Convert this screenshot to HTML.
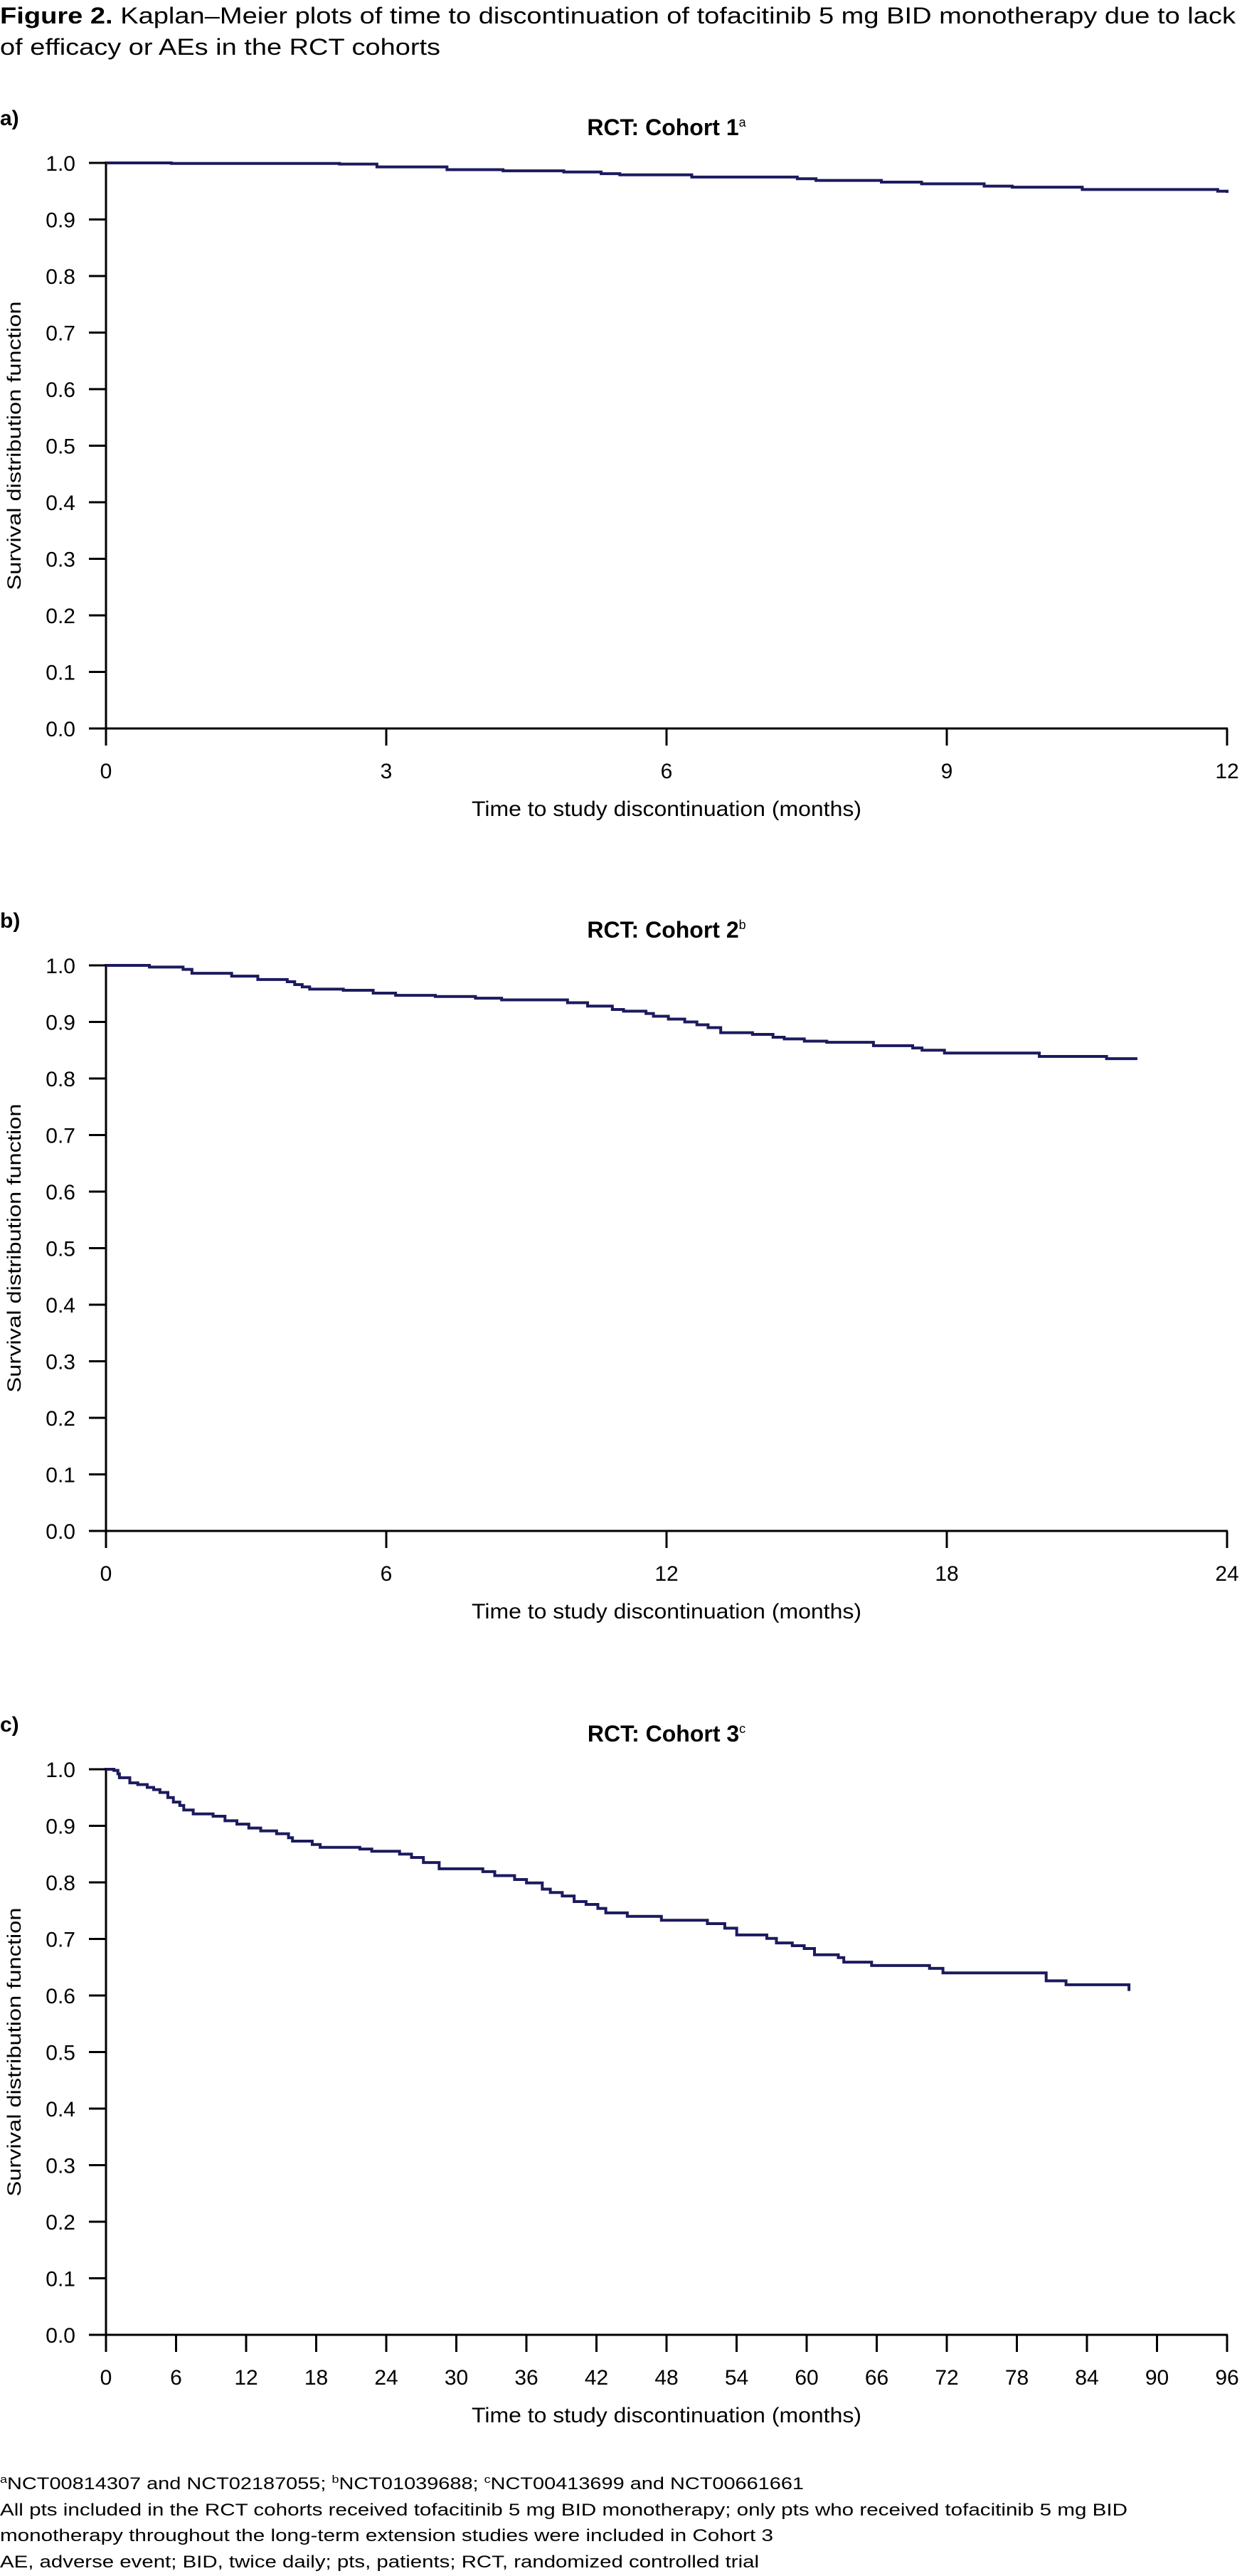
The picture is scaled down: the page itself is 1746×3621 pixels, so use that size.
<!DOCTYPE html>
<html><head><meta charset="utf-8"><style>
html,body{margin:0;padding:0;background:#fff}
svg{display:block;font-family:"Liberation Sans",Arial,sans-serif}
</style></head><body>
<svg id="fig" width="1746" height="3621" viewBox="0 0 1746 3621" xmlns="http://www.w3.org/2000/svg">
<text x="0" y="33" font-size="32" textLength="1737" lengthAdjust="spacingAndGlyphs"><tspan font-weight="bold">Figure 2.</tspan> Kaplan–Meier plots of time to discontinuation of tofacitinib 5 mg BID monotherapy due to lack</text>
<text x="0" y="77" font-size="32" textLength="619" lengthAdjust="spacingAndGlyphs">of efficacy or AEs in the RCT cohorts</text>
<g id="charts"></g>
<g font-size="24">
<text x="0" y="3499" textLength="1130" lengthAdjust="spacingAndGlyphs"><tspan font-size="15" dy="-9">a</tspan><tspan dy="9">NCT00814307 and NCT02187055; </tspan><tspan font-size="15" dy="-9">b</tspan><tspan dy="9">NCT01039688; </tspan><tspan font-size="15" dy="-9">c</tspan><tspan dy="9">NCT00413699 and NCT00661661</tspan></text>
<text x="0" y="3536" textLength="1585" lengthAdjust="spacingAndGlyphs">All pts included in the RCT cohorts received tofacitinib 5 mg BID monotherapy; only pts who received tofacitinib 5 mg BID</text>
<text x="0" y="3572" textLength="1087" lengthAdjust="spacingAndGlyphs">monotherapy throughout the long-term extension studies were included in Cohort 3</text>
<text x="0" y="3609" textLength="1067" lengthAdjust="spacingAndGlyphs">AE, adverse event; BID, twice daily; pts, patients; RCT, randomized controlled trial</text>
</g>
</svg>
<script>
// Cohort 1 (months, survival)
const c1Times = [0, 0.7, 2.5, 2.9, 3.65, 4.25, 4.9, 5.3, 5.5, 6.27, 7.4, 7.6, 8.3, 8.73, 9.4, 9.7, 10.45, 11.9, 12];
const c1Surv  = [1.0, 0.999, 0.998, 0.993, 0.988, 0.986, 0.984, 0.981, 0.979, 0.975, 0.972, 0.969, 0.966, 0.963, 0.959, 0.957, 0.953, 0.95, 0.947];
const c1Ticks = [0, 3, 6, 9, 12];
// Cohort 2
const c2Times = [0, 0.93, 1.65, 1.84, 2.69, 3.25, 3.88, 4.04, 4.2, 4.36, 5.08, 5.72, 6.2, 7.05, 7.91, 8.47, 9.88, 10.31, 10.84, 11.08, 11.56, 11.72, 12.04, 12.39, 12.65, 12.89, 13.16, 13.84, 14.28, 14.52, 14.95, 15.43, 16.43, 17.27, 17.47, 17.95, 19.98, 21.42, 22.08];
const c2Surv  = [1.0, 0.997, 0.993, 0.986, 0.981, 0.975, 0.971, 0.966, 0.962, 0.958, 0.956, 0.951, 0.947, 0.945, 0.942, 0.939, 0.934, 0.928, 0.922, 0.919, 0.915, 0.91, 0.905, 0.9, 0.895, 0.89, 0.881, 0.878, 0.873, 0.87, 0.866, 0.864, 0.858, 0.854, 0.85, 0.845, 0.839, 0.835, 0.835];
const c2Ticks = [0, 6, 12, 18, 24];
// Cohort 3
const c3Times = [0, 0.68, 1.02, 1.15, 2.04, 2.72, 3.53, 4.08, 4.62, 5.3, 5.77, 6.32, 6.66, 7.47, 9.17, 10.19, 11.21, 12.23, 13.25, 14.61, 15.63, 15.97, 17.66, 18.34, 21.74, 22.76, 25.14, 26.16, 27.18, 28.53, 32.27, 33.29, 34.99, 36.01, 37.36, 38.05, 39.07, 40.09, 41.11, 42.12, 42.8, 44.64, 47.56, 51.5, 52.99, 54.01, 56.59, 57.41, 58.77, 59.79, 60.67, 62.71, 63.18, 65.56, 70.52, 71.67, 80.51, 82.21, 87.5, 87.6];
const c3Surv  = [1.0, 0.998, 0.992, 0.985, 0.976, 0.973, 0.968, 0.964, 0.959, 0.95, 0.942, 0.936, 0.928, 0.921, 0.917, 0.909, 0.903, 0.896, 0.891, 0.886, 0.879, 0.873, 0.867, 0.862, 0.859, 0.855, 0.85, 0.844, 0.835, 0.824, 0.819, 0.812, 0.805, 0.799, 0.788, 0.782, 0.776, 0.766, 0.761, 0.754, 0.746, 0.74, 0.733, 0.727, 0.719, 0.707, 0.701, 0.693, 0.688, 0.683, 0.672, 0.667, 0.659, 0.653, 0.648, 0.64, 0.626, 0.619, 0.619, 0.608];
const c3Ticks = [0, 6, 12, 18, 24, 30, 36, 42, 48, 54, 60, 66, 72, 78, 84, 90, 96];
const yTicks = [0.0, 0.1, 0.2, 0.3, 0.4, 0.5, 0.6, 0.7, 0.8, 0.9, 1.0];

const NS = 'http://www.w3.org/2000/svg';
const root = document.getElementById('charts');
function mk(tag, attrs, parent) {
  const e = document.createElementNS(NS, tag);
  for (const k in attrs) e.setAttribute(k, attrs[k]);
  parent.appendChild(e);
  return e;
}
const X0 = 149, X1 = 1725;
function drawChart(opts) {
  const { top, letter, sup, title, times, surv, ticks, xmax, key } = opts;
  const bottom = top + 795;
  const xs = v => X0 + (v / xmax) * (X1 - X0);
  const ys = v => bottom - v * 795;
  const g = mk('g', {}, root);
  
  

  const lab = mk('text', { x: 0, y: top - 53, 'font-size': 30, 'font-weight': 'bold' }, g);
  lab.textContent = letter;
  
  

  const t = mk('text', { x: 937, y: top - 39, 'font-size': 32, 'font-weight': 'bold', 'text-anchor': 'middle' }, g);
  
  
  const ts = mk('tspan', {}, t); ts.textContent = title;
  const tsup = mk('tspan', { 'font-size': 18, dy: -12, 'font-weight': 'normal' }, t); tsup.textContent = sup;

  // y ticks
  yTicks.forEach(v => {
    const tk = mk('line', { x1: 125, x2: X0, y1: ys(v), y2: ys(v), stroke: '#000', 'stroke-width': 3 }, g);
    
    
    const tl = mk('text', { x: 106, y: ys(v) + 11, 'font-size': 30, 'text-anchor': 'end' }, g);
    tl.textContent = v.toFixed(1);
    
    
  });
  // x ticks
  ticks.forEach(v => {
    const tk = mk('line', { x1: xs(v), x2: xs(v), y1: bottom, y2: bottom + 24, stroke: '#000', 'stroke-width': 3 }, g);
    
    
    const tl = mk('text', { x: xs(v), y: bottom + 70, 'font-size': 30, 'text-anchor': 'middle' }, g);
    tl.textContent = String(v);
    
    
  });
  const ya = mk('line', { x1: X0, x2: X0, y1: top - 2, y2: bottom + 24, stroke: '#000', 'stroke-width': 3 }, g);
  
  
  const xa = mk('line', { x1: 125, x2: X1 + 1, y1: bottom, y2: bottom, stroke: '#000', 'stroke-width': 3 }, g);
  
  

  const xt = mk('text', { x: 937, y: bottom + 123, 'font-size': 30, 'text-anchor': 'middle', textLength: 548, lengthAdjust: 'spacingAndGlyphs' }, g);
  xt.textContent = 'Time to study discontinuation (months)';
  
  
  const cy = (top + bottom) / 2;
  const yt = mk('text', { x: 0, y: 0, 'font-size': 27, 'text-anchor': 'middle', textLength: 406, lengthAdjust: 'spacingAndGlyphs', transform: 'translate(29,' + cy + ') rotate(-90)' }, g);
  yt.textContent = 'Survival distribution function';
  
  

  // step curve
  let d = 'M' + xs(times[0]) + ',' + ys(surv[0]);
  for (let i = 1; i < times.length; i++) {
    d += ' H' + xs(times[i]) + ' V' + ys(surv[i]);
  }
  const p = mk('path', { d: d, fill: 'none', stroke: '#1c1a5e', 'stroke-width': 4 }, g);
  
  
}
drawChart({ top: 229, letter: 'a)', sup: 'a', title: 'RCT: Cohort 1', times: c1Times, surv: c1Surv, ticks: c1Ticks, xmax: 12, key: 'cohort-1' });
drawChart({ top: 1357, letter: 'b)', sup: 'b', title: 'RCT: Cohort 2', times: c2Times, surv: c2Surv, ticks: c2Ticks, xmax: 24, key: 'cohort-2' });
drawChart({ top: 2487, letter: 'c)', sup: 'c', title: 'RCT: Cohort 3', times: c3Times, surv: c3Surv, ticks: c3Ticks, xmax: 96, key: 'cohort-3' });
</script>
</body></html>
